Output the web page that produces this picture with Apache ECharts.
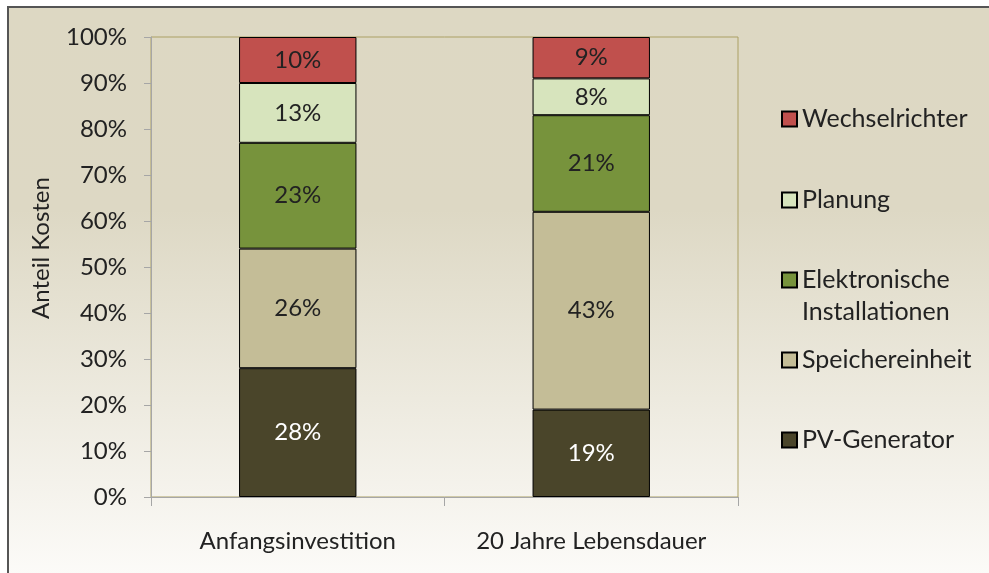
<!DOCTYPE html>
<html>
<head>
<meta charset="utf-8">
<script src="https://cdn.jsdelivr.net/npm/echarts@6/dist/echarts.min.js"></script>
<style>
html,body{margin:0;padding:0;background:#ffffff;}
#chart{width:989px;height:573px;}
</style>
</head>
<body>
<div id="chart"></div>
<script>
const categories = ['Anfangsinvestition', '20 Jahre Lebensdauer'];
const pvGenerator = [28, 19];
const speichereinheit = [26, 43];
const elektronisch = [23, 21];
const planung = [13, 8];
const wechselrichter = [10, 9];
const seriesNames = ['PV-Generator', 'Speichereinheit', 'Elektronische Installationen', 'Planung', 'Wechselrichter'];
const legendOrder = ['Wechselrichter', 'Planung', 'Elektronische Installationen', 'Speichereinheit', 'PV-Generator'];
const yAxisName = 'Anteil Kosten';

const FONT = 'Lato';
const TXT = '#222222';
const colors = ['#4a452a', '#c4bd97', '#77933c', '#d7e4bd', '#c0504d'];
const values = [pvGenerator, speichereinheit, elektronisch, planung, wechselrichter];
const legendCenters = [119, 200, 280, 360, 440];

const chart = echarts.init(document.getElementById('chart'), null, {renderer: 'canvas'});

const series = seriesNames.map((name, i) => ({
  name: name,
  type: 'bar',
  stack: 'total',
  barWidth: '40%',
  data: values[i],
  itemStyle: {color: colors[i], borderColor: '#000000', borderWidth: 1},
  label: {
    show: true,
    position: 'inside',
    formatter: '{c}%',
    fontFamily: FONT,
    fontSize: 24,
    color: i === 0 ? '#ffffff' : TXT
  },
  emphasis: {disabled: true}
}));

const legends = legendOrder.map((name, i) => {
  const twoLine = name === 'Elektronische Installationen';
  return {
    orient: 'vertical',
    left: 781,
    top: legendCenters[i] - (twoLine ? 48 : 16),
    padding: 0,
    itemWidth: 15,
    itemHeight: 15,
    data: [name],
    icon: 'rect',
    formatter: function (n) {
      return n === 'Elektronische Installationen' ? ' \nElektronische\nInstallationen' : n;
    },
    textStyle: {fontFamily: FONT, fontSize: 25, color: TXT, lineHeight: 32},
    selectedMode: false
  };
});

chart.setOption({
  animation: false,
  backgroundColor: 'transparent',
  graphic: [{
    type: 'rect',
    z: -100,
    shape: {x: 8, y: 7, width: 1000, height: 580},
    style: {
      fill: new echarts.graphic.LinearGradient(0, 0, 0, 1, [
        {offset: 0, color: '#ddd8c3'},
        {offset: 0.35, color: '#ddd8c4'},
        {offset: 1, color: '#fdfcfa'}
      ]),
      stroke: '#555555',
      lineWidth: 2
    }
  }],
  grid: {
    left: 151, right: 251, top: 37, bottom: 76,
    show: true,
    borderColor: '#aba064',
    borderWidth: 1,
    backgroundColor: 'transparent'
  },
  legend: legends,
  xAxis: {
    type: 'category',
    data: categories,
    axisLine: {lineStyle: {color: '#a6a6a6', width: 1}},
    axisTick: {show: true, length: 9, lineStyle: {color: '#a6a6a6'}},
    axisLabel: {fontFamily: FONT, fontSize: 24, color: TXT, margin: 32, interval: 0}
  },
  yAxis: {
    type: 'value',
    min: 0,
    max: 100,
    interval: 10,
    name: yAxisName,
    nameLocation: 'middle',
    nameGap: 98,
    nameTextStyle: {fontFamily: FONT, fontSize: 24, color: TXT, padding: [0, 0, 0, 38]},
    axisLine: {show: true, lineStyle: {color: '#a6a6a6', width: 1}},
    axisTick: {show: true, length: 7, lineStyle: {color: '#a6a6a6'}},
    splitLine: {show: false},
    axisLabel: {fontFamily: FONT, fontSize: 24, color: TXT, margin: 24, formatter: '{value}%'}
  },
  series: series
});
</script>
</body>
</html>
